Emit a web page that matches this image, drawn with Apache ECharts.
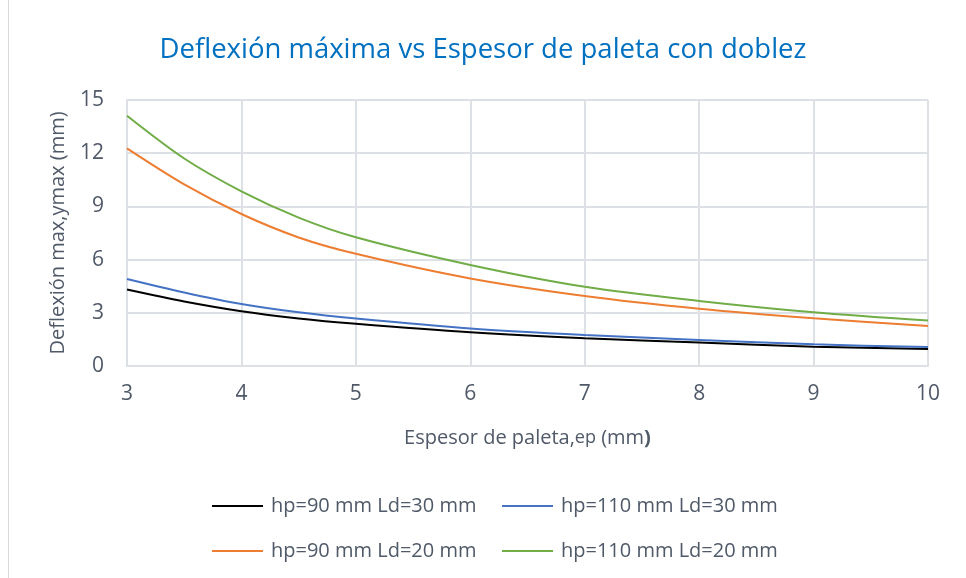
<!DOCTYPE html>
<html>
<head>
<meta charset="utf-8">
<script src="https://cdn.jsdelivr.net/npm/echarts@6/dist/echarts.min.js"></script>
<style>
  html, body { margin: 0; padding: 0; background: #fff; }
  #chart { width: 966px; height: 578px; }
</style>
</head>
<body>
<div id="chart"></div>
<script>
// Espesor de paleta (mm)
const espesor = [3, 3.5, 4, 4.5, 5, 6, 7, 8, 9, 10];

// Deflexión máxima (mm) por configuración
const hp90Ld30  = [4.31, 3.64, 3.09, 2.68, 2.38, 1.90, 1.56, 1.32, 1.09, 0.96];
const hp110Ld30 = [4.91, 4.15, 3.50, 3.03, 2.68, 2.12, 1.75, 1.47, 1.22, 1.07];
const hp90Ld20  = [12.27, 10.24, 8.57, 7.25, 6.33, 4.94, 3.95, 3.23, 2.69, 2.26];
const hp110Ld20 = [14.11, 11.70, 9.85, 8.37, 7.26, 5.70, 4.47, 3.67, 3.03, 2.56];

const seriesNames = [
  'hp=90 mm Ld=30 mm',
  'hp=110 mm Ld=30 mm',
  'hp=90 mm Ld=20 mm',
  'hp=110 mm Ld=20 mm'
];

const pairs = (ys) => espesor.map((x, i) => [x, ys[i]]);

const font = '"Open Sans", "Noto Sans", sans-serif';
const textGray = '#4F5968';
const gridGray = '#DDE1E6';

const lineSeries = (name, ys, color) => ({
  name: name,
  type: 'line',
  data: pairs(ys),
  smooth: 0.3,
  showSymbol: false,
  symbol: 'none',
  lineStyle: { color: color, width: 2 },
  itemStyle: { color: color },
  emphasis: { disabled: true }
});

// one legend block per entry so each sits in its own column/row
const legendItem = (name, left, top) => ({
  data: [name],
  left: left,
  top: top,
  icon: 'rect',
  itemWidth: 51,
  itemHeight: 2,
  selectedMode: false,
  textStyle: { fontFamily: font, fontSize: 20, color: textGray, padding: [0, 0, 0, 3] }
});

const chart = echarts.init(document.getElementById('chart'), null, { renderer: 'canvas' });

chart.setOption({
  animation: false,
  backgroundColor: '#ffffff',
  title: {
    text: 'Deflexión máxima vs Espesor de paleta con doblez',
    left: 'center',
    top: 31,
    textStyle: { fontFamily: font, fontSize: 27.5, fontWeight: 'normal', color: '#0070C0' }
  },
  graphic: [{
    type: 'line',
    shape: { x1: 8.5, y1: 0, x2: 8.5, y2: 578 },
    style: { stroke: '#D9D9D9', lineWidth: 1 }
  }],
  legend: [
    legendItem(seriesNames[0], 207, 491),
    legendItem(seriesNames[1], 497, 491),
    legendItem(seriesNames[2], 207, 536),
    legendItem(seriesNames[3], 497, 536)
  ],
  grid: { left: 127, right: 38, top: 100, bottom: 212, containLabel: false },
  xAxis: {
    type: 'value',
    min: 3,
    max: 10,
    interval: 1,
    name: 'Espesor de paleta,{s|ep} (mm{b|)}',
    nameLocation: 'middle',
    nameGap: 62,
    nameTextStyle: {
      fontFamily: font, fontSize: 20, color: textGray,
      rich: {
        s: { fontFamily: font, fontSize: 18, color: textGray },
        b: { fontFamily: font, fontSize: 20, color: textGray, fontWeight: 'bold' }
      }
    },
    axisLine: { show: true, lineStyle: { color: gridGray, width: 2 } },
    axisTick: { show: false },
    splitLine: { show: true, lineStyle: { color: gridGray, width: 2 } },
    axisLabel: { fontFamily: font, fontSize: 21, color: textGray, margin: 18 }
  },
  yAxis: {
    type: 'value',
    min: 0,
    max: 15,
    interval: 3,
    name: 'Deflexión max,ymax (mm)',
    nameLocation: 'middle',
    nameGap: 59,
    nameTextStyle: { fontFamily: font, fontSize: 20, color: textGray },
    axisLine: { show: true, lineStyle: { color: gridGray, width: 2 } },
    axisTick: { show: false },
    splitLine: { show: true, lineStyle: { color: gridGray, width: 2 } },
    axisLabel: { fontFamily: font, fontSize: 21, color: textGray, margin: 23 }
  },
  series: [
    lineSeries(seriesNames[0], hp90Ld30, '#000000'),
    lineSeries(seriesNames[1], hp110Ld30, '#4472C4'),
    lineSeries(seriesNames[2], hp90Ld20, '#ED7D31'),
    lineSeries(seriesNames[3], hp110Ld20, '#70AD47')
  ]
});
</script>
</body>
</html>
